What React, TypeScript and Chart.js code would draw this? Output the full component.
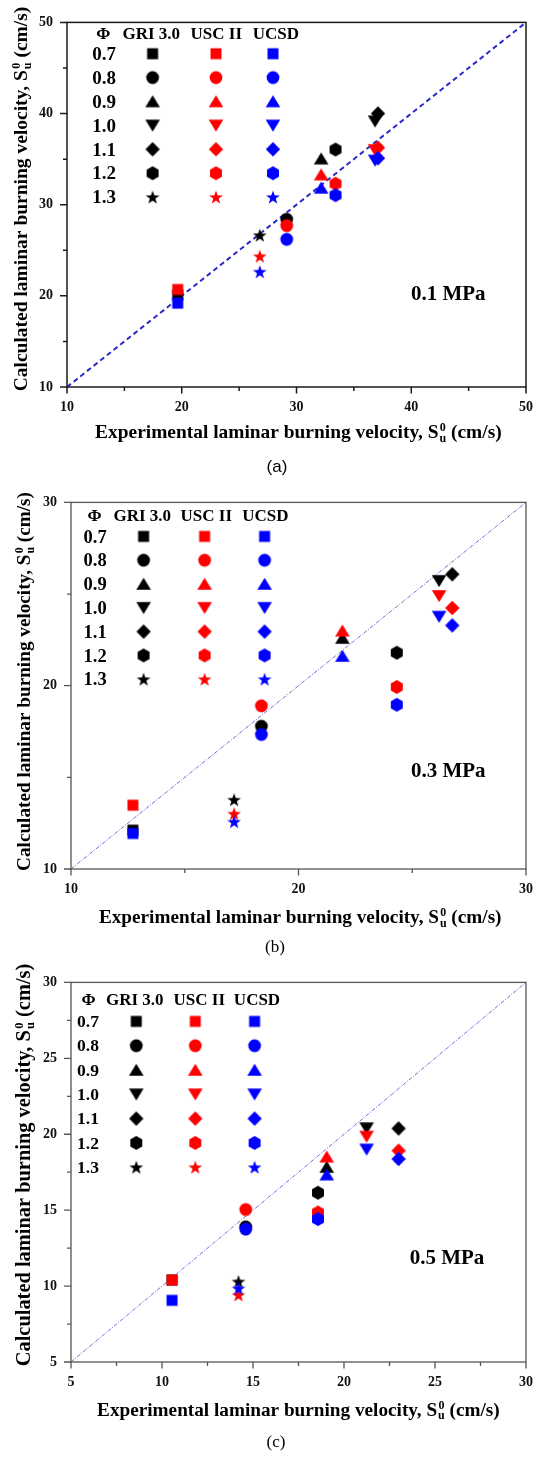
import React, { useEffect, useRef } from 'react';
import { Chart, registerables } from 'chart.js';

Chart.register(...registerables);

// ---------- data ----------
const PHI = ['0.7', '0.8', '0.9', '1.0', '1.1', '1.2', '1.3'];
const MODELS = ['GRI 3.0', 'USC II', 'UCSD'];
const SHAPES = ['square', 'circle', 'triangle', 'triangleDown', 'diamond', 'hexagon', 'star'];
const PRESSURES = ['0.1 MPa', '0.3 MPa', '0.5 MPa'];
const CAPTIONS = ['(a)', '(b)', '(c)'];

// (a) 0.1 MPa  (values ordered by PHI)
const A_EXP = [19.65, 29.15, 32.15, 36.85, 37.1, 33.4, 26.8];
const A_GRI = [20.1, 28.4, 35.05, 39.15, 40.0, 36.05, 26.65];
const A_USC = [20.7, 27.7, 33.3, 36.0, 36.25, 32.3, 24.35];
const A_UCSD = [19.2, 26.2, 31.85, 34.85, 35.1, 31.05, 22.65];
const A_TICKS = [10, 20, 30, 40, 50];
const A_MINOR = [15, 25, 35, 45];
const A_DIAG = [10, 50];

// (b) 0.3 MPa
const B_EXP = [12.72, 18.37, 21.93, 26.18, 26.76, 24.32, 17.17];
const B_GRI = [12.12, 17.79, 22.6, 25.72, 26.08, 21.8, 13.78];
const B_USC = [13.48, 18.9, 23.0, 24.9, 24.24, 19.93, 13.02];
const B_UCSD = [11.94, 17.34, 21.62, 23.77, 23.29, 18.96, 12.58];
const B_TICKS = [10, 20, 30];
const B_MINOR = [15, 25];
const B_DIAG = [10, 30];

// (c) 0.5 MPa
const C_EXP = [10.55, 14.6, 19.05, 21.24, 23.0, 18.57, 14.2];
const C_GRI = [10.4, 13.9, 17.84, 20.4, 20.38, 16.15, 10.3];
const C_USC = [10.4, 15.04, 18.52, 19.85, 18.92, 14.85, 9.42];
const C_UCSD = [9.06, 13.75, 17.34, 19.0, 18.37, 14.41, 9.85];
const C_TICKS = [5, 10, 15, 20, 25, 30];
const C_MINOR = [7.5, 12.5, 17.5, 22.5, 27.5];
const C_DIAG = [5, 30];

// ---------- styles ----------
const COLORS = ['#000000', '#ff0000', '#0000ff'];
const SERIF = '"Liberation Serif", "Times New Roman", serif';
const SANS = '"Liberation Sans", Arial, sans-serif';

type Spec = any;

const PANELS: Spec[] = [
  {
    key: 'a', top: 0, height: 480,
    exp: A_EXP, series: [A_GRI, A_USC, A_UCSD], min: 10, max: 50,
    ticks: A_TICKS, minor: A_MINOR, diag: A_DIAG, pressure: PRESSURES[0], caption: CAPTIONS[0],
    pad: { top: 11, right: 15, bottom: 53, left: 0 }, yW: 67, xH: 40,
    frame: { color: '#1a1a1a', width: 1.5 },
    diagStyle: { color: '#2a2acc', width: 2, dash: [5, 3.5] },
    yTitle: { bx: 27, cy: 199, w: 385 },
    xTitle: { by: 438, cx: 298.4, w: 407 },
    cap: { x: 277, y: 467, font: SANS },
    mpa: { dx: 381.3, dy: 270.7 },
    legend: { headY: 11, phiX: 36.3, headX: [84.3, 149.3, 208.8], headSize: 17, rowY0: 31.3, rowDy: 23.9, labelX: 25.3, rowSize: 19, markX: [85.6, 149, 206] },
  },
  {
    key: 'b', top: 480, height: 480,
    exp: B_EXP, series: [B_GRI, B_USC, B_UCSD], min: 10, max: 30,
    ticks: B_TICKS, minor: B_MINOR, diag: B_DIAG, pressure: PRESSURES[1], caption: CAPTIONS[1],
    pad: { top: 16, right: 16, bottom: 51, left: 0 }, yW: 71, xH: 40,
    frame: { color: '#555555', width: 1.3 },
    diagStyle: { color: '#7070d8', width: 1, dash: [4, 1.5, 1, 1.5] },
    yTitle: { bx: 30, cy: 201.5, w: 379 },
    xTitle: { by: 443, cx: 300.2, w: 403 },
    cap: { x: 275, y: 468, font: SERIF },
    mpa: { dx: 377.3, dy: 268 },
    legend: { headY: 13, phiX: 23.6, headX: [71.3, 135.3, 194.3], headSize: 17, rowY0: 34, rowDy: 23.8, labelX: 12.6, rowSize: 18.5, markX: [72.6, 133.6, 193.6] },
  },
  {
    key: 'c', top: 960, height: 497,
    exp: C_EXP, series: [C_GRI, C_USC, C_UCSD], min: 5, max: 30,
    ticks: C_TICKS, minor: C_MINOR, diag: C_DIAG, pressure: PRESSURES[2], caption: CAPTIONS[2],
    pad: { top: 21, right: 18, bottom: 55, left: 0 }, yW: 71, xH: 40,
    frame: { color: '#555555', width: 1.3 },
    diagStyle: { color: '#7070d8', width: 1, dash: [4, 1.5, 1, 1.5] },
    yTitle: { bx: 30, cy: 205, w: 403 },
    xTitle: { by: 455.6, cx: 298.4, w: 403 },
    cap: { x: 276, y: 483, font: SERIF },
    mpa: { dx: 376, dy: 275 },
    legend: { headY: 17.3, phiX: 17.6, headX: [63.8, 128.3, 186], headSize: 17, rowY0: 39, rowDy: 24.3, labelX: 6, rowSize: 17.5, markX: [65.3, 124.3, 183.6] },
  },
];

// ---------- markers ----------
let MARKERS: Record<string, HTMLCanvasElement>[] | null = null;
function makeMarker(shape: string, color: string): HTMLCanvasElement {
  const S = 18;
  const c = document.createElement('canvas');
  c.width = S; c.height = S;
  const g = c.getContext('2d')!;
  const m = S / 2;
  g.fillStyle = color;
  g.beginPath();
  if (shape === 'square') {
    g.rect(m - 5.5, m - 5.5, 11, 11);
  } else if (shape === 'circle') {
    g.arc(m, m, 6.4, 0, Math.PI * 2);
  } else if (shape === 'triangle') {
    g.moveTo(m, m - 6.2); g.lineTo(m + 7.3, m + 5.8); g.lineTo(m - 7.3, m + 5.8); g.closePath();
  } else if (shape === 'triangleDown') {
    g.moveTo(m, m + 6.2); g.lineTo(m + 7.3, m - 5.8); g.lineTo(m - 7.3, m - 5.8); g.closePath();
  } else if (shape === 'diamond') {
    g.moveTo(m, m - 7.2); g.lineTo(m + 7.2, m); g.lineTo(m, m + 7.2); g.lineTo(m - 7.2, m); g.closePath();
  } else if (shape === 'hexagon') {
    for (let k = 0; k < 6; k++) {
      const a = -Math.PI / 2 + (k * Math.PI) / 3;
      const px = m + 6.9 * Math.cos(a), py = m + 6.9 * Math.sin(a);
      if (k === 0) g.moveTo(px, py); else g.lineTo(px, py);
    }
    g.closePath();
  } else if (shape === 'star') {
    for (let k = 0; k < 10; k++) {
      const a = -Math.PI / 2 + (k * Math.PI) / 5;
      const r = k % 2 === 0 ? 7.2 : 2.9;
      const px = m + r * Math.cos(a), py = m + 0.6 + r * Math.sin(a);
      if (k === 0) g.moveTo(px, py); else g.lineTo(px, py);
    }
    g.closePath();
  }
  g.fill();
  return c;
}
function getMarkers() {
  if (!MARKERS) {
    MARKERS = COLORS.map((col) => {
      const o: Record<string, HTMLCanvasElement> = {};
      SHAPES.forEach((s) => { o[s] = makeMarker(s, col); });
      return o;
    });
  }
  return MARKERS;
}

// ---------- text helpers ----------
function drawSuTitle(ctx: CanvasRenderingContext2D, prefix: string, suffix: string, targetW: number) {
  // draws centered at (0, baseline 0)
  const base = 19;
  const measure = (size: number) => {
    ctx.font = `bold ${size}px ${SERIF}`;
    const w1 = ctx.measureText(prefix).width;
    const w3 = ctx.measureText(suffix).width;
    ctx.font = `bold ${size * 0.62}px ${SERIF}`;
    const w2 = Math.max(ctx.measureText('0').width, ctx.measureText('u').width);
    return { w1, w2, w3, total: w1 + w2 + w3 + size * 0.05 };
  };
  const m0 = measure(base);
  const size = (base * targetW) / m0.total;
  const m = measure(size);
  let x = -m.total / 2;
  ctx.textAlign = 'left';
  ctx.textBaseline = 'alphabetic';
  ctx.font = `bold ${size}px ${SERIF}`;
  ctx.fillText(prefix, x, 0);
  x += m.w1 + size * 0.05;
  ctx.font = `bold ${size * 0.62}px ${SERIF}`;
  ctx.textAlign = 'center';
  ctx.fillText('0', x + m.w2 / 2, -size * 0.36);
  ctx.fillText('u', x + m.w2 / 2, size * 0.2);
  ctx.textAlign = 'left';
  x += m.w2;
  ctx.font = `bold ${size}px ${SERIF}`;
  ctx.fillText(suffix, x, 0);
}

// ---------- plugin ----------
const decorPlugin = {
  id: 'decor',
  afterDraw(chart: any) {
    const spec: Spec = chart.options.plugins.decor.spec;
    const { ctx, chartArea: ca } = chart;
    const xs = chart.scales.x, ys = chart.scales.y;
    ctx.save();

    // frame
    ctx.strokeStyle = spec.frame.color;
    ctx.lineWidth = spec.frame.width;
    ctx.setLineDash([]);
    ctx.strokeRect(ca.left, ca.top, ca.right - ca.left, ca.bottom - ca.top);

    // ticks (outward on left & bottom)
    ctx.beginPath();
    spec.ticks.forEach((v: number) => {
      const px = xs.getPixelForValue(v);
      ctx.moveTo(px, ca.bottom); ctx.lineTo(px, ca.bottom + 6.5);
      const py = ys.getPixelForValue(v);
      ctx.moveTo(ca.left, py); ctx.lineTo(ca.left - 7, py);
    });
    spec.minor.forEach((v: number) => {
      const px = xs.getPixelForValue(v);
      ctx.moveTo(px, ca.bottom); ctx.lineTo(px, ca.bottom + 4);
      const py = ys.getPixelForValue(v);
      ctx.moveTo(ca.left, py); ctx.lineTo(ca.left - 4, py);
    });
    ctx.stroke();

    ctx.fillStyle = '#000';

    // inset legend table
    const L = spec.legend;
    const mk = getMarkers();
    ctx.textBaseline = 'alphabetic';
    ctx.textAlign = 'center';
    ctx.font = `bold ${L.headSize}px ${SERIF}`;
    const hb = ca.top + L.headY + L.headSize * 0.33;
    ctx.fillText('Φ', ca.left + L.phiX, hb);
    MODELS.forEach((m, i) => ctx.fillText(m, ca.left + L.headX[i], hb));
    ctx.font = `bold ${L.rowSize}px ${SERIF}`;
    ctx.textAlign = 'left';
    PHI.forEach((ph, r) => {
      const cy = ca.top + L.rowY0 + r * L.rowDy;
      ctx.fillText(ph, ca.left + L.labelX, cy + L.rowSize * 0.33);
      for (let mi = 0; mi < 3; mi++) {
        const img = mk[mi][SHAPES[r]];
        ctx.drawImage(img, ca.left + L.markX[mi] - img.width / 2, cy - img.height / 2);
      }
    });

    // pressure label
    ctx.textAlign = 'center';
    ctx.font = `bold 21px ${SERIF}`;
    ctx.fillText(spec.pressure, ca.left + spec.mpa.dx, ca.top + spec.mpa.dy + 7);

    // x title
    ctx.save();
    ctx.translate(spec.xTitle.cx, spec.xTitle.by);
    drawSuTitle(ctx, 'Experimental laminar burning velocity, S', ' (cm/s)', spec.xTitle.w);
    ctx.restore();

    // y title
    ctx.save();
    ctx.translate(spec.yTitle.bx, spec.yTitle.cy);
    ctx.rotate(-Math.PI / 2);
    drawSuTitle(ctx, 'Calculated laminar burning velocity, S', ' (cm/s)', spec.yTitle.w);
    ctx.restore();

    // caption
    ctx.textAlign = 'center';
    ctx.textBaseline = 'middle';
    ctx.font = `17px ${spec.cap.font}`;
    ctx.fillText(spec.caption, spec.cap.x, spec.cap.y);

    ctx.restore();
  },
};

function buildConfig(spec: Spec): any {
  const mk = getMarkers();
  const orders = [3, 2, 1];
  const datasets: any[] = spec.series.map((ys: number[], mi: number) => ({
    label: MODELS[mi],
    data: spec.exp.map((x: number, i: number) => ({ x, y: ys[i] })),
    pointStyle: SHAPES.map((s) => mk[mi][s]),
    pointRadius: 6,
    pointHoverRadius: 6,
    backgroundColor: COLORS[mi],
    borderColor: COLORS[mi],
    showLine: false,
    order: orders[mi],
  }));
  datasets.push({
    label: 'y = x',
    data: spec.diag.map((v: number) => ({ x: v, y: v })),
    showLine: true,
    pointRadius: 0,
    borderColor: spec.diagStyle.color,
    borderWidth: spec.diagStyle.width,
    borderDash: spec.diagStyle.dash,
    fill: false,
    order: 4,
  });
  const tickFont = { family: SERIF, weight: 'bold' as const, size: 14 };
  return {
    type: 'scatter',
    data: { datasets },
    options: {
      responsive: false,
      animation: false,
      devicePixelRatio: 1,
      events: [],
      layout: { padding: spec.pad },
      plugins: {
        legend: { display: false },
        tooltip: { enabled: false },
        decor: { spec },
      },
      scales: {
        x: {
          type: 'linear', min: spec.min, max: spec.max,
          afterBuildTicks: (s: any) => { s.ticks = spec.ticks.map((v: number) => ({ value: v })); },
          afterFit: (s: any) => { s.height = spec.xH; },
          ticks: { font: tickFont, color: '#111', padding: 12, autoSkip: false, maxRotation: 0 },
          grid: { display: false, drawTicks: false },
          border: { display: false },
        },
        y: {
          type: 'linear', min: spec.min, max: spec.max,
          afterBuildTicks: (s: any) => { s.ticks = spec.ticks.map((v: number) => ({ value: v })); },
          afterFit: (s: any) => { s.width = spec.yW; },
          ticks: { font: tickFont, color: '#111', padding: 14, autoSkip: false },
          grid: { display: false, drawTicks: false },
          border: { display: false },
        },
      },
    },
    plugins: [decorPlugin],
  };
}

function Panel({ spec }: { spec: Spec }) {
  const ref = useRef<HTMLCanvasElement>(null);
  useEffect(() => {
    const chart = new Chart(ref.current as HTMLCanvasElement, buildConfig(spec));
    return () => chart.destroy();
  }, [spec]);
  return (
    <canvas
      ref={ref}
      width={545}
      height={spec.height}
      style={{ position: 'absolute', left: 0, top: spec.top, width: 545, height: spec.height, display: 'block' }}
    />
  );
}

export default function App() {
  return (
    <div style={{ position: 'absolute', left: 0, top: 0, width: 545, height: 1457, background: '#ffffff' }}>
      {PANELS.map((p) => (
        <Panel key={p.key} spec={p} />
      ))}
    </div>
  );
}
